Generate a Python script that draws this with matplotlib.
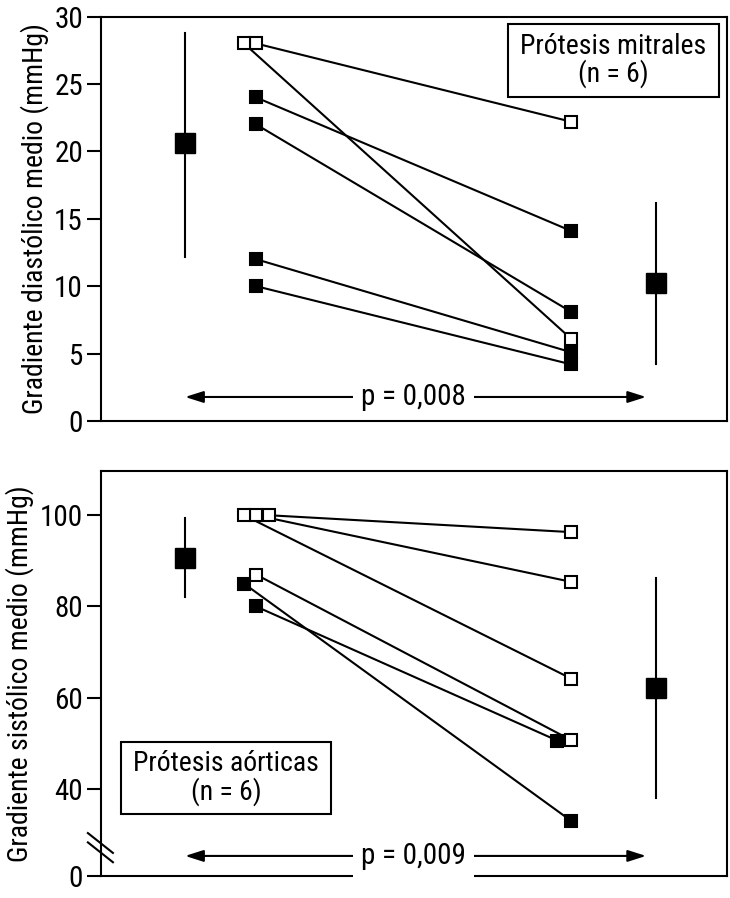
import matplotlib
matplotlib.use("Agg")
import matplotlib.pyplot as plt
from matplotlib.patches import Rectangle

plt.rcParams['font.family'] = ['Roboto Condensed', 'DejaVu Sans']

# --- data: mitral prostheses (diastolic gradient, mmHg) ---
mit_before = [28, 28, 24, 22, 12, 10]
mit_after = [22.2, 6.1, 14.1, 8.1, 5.1, 4.2]
mit_before_open = [True, True, False, False, False, False]
mit_after_open = [True, True, False, False, False, False]
mit_before_dx = [0.0, -0.038, 0.0, 0.0, 0.0, 0.0]
mit_mean = [20.6, 10.2]
mit_low = [12.2, 4.2]
mit_high = [28.8, 16.2]
mit_p = "p = 0,008"

# --- data: aortic prostheses (systolic gradient, mmHg) ---
aor_before = [100, 100, 100, 87, 85, 80]
aor_after = [96.3, 85.4, 64.2, 50.7, 33.0, 50.6]
aor_before_open = [True, True, True, True, False, False]
aor_after_open = [True, True, True, True, False, False]
aor_before_dx = [0.041, 0.0, -0.038, 0.0, -0.038, 0.0]
aor_after_dx = [0.0, 0.0, 0.0, 0.0, 0.0, -0.044]
aor_mean = [90.6, 62.1]
aor_low = [82.0, 37.9]
aor_high = [99.3, 86.2]
aor_p = "p = 0,009"

x_before, x_after = 1.0, 2.0
x_mean = [0.775, 2.27]
XLIM = (0.508, 2.495)

fig = plt.figure(figsize=(7.3, 8.98), dpi=100)
ax1 = fig.add_axes([0.1384, 0.5312, 0.8575, 0.4504])
ax2 = fig.add_axes([0.1384, 0.0245, 0.8575, 0.451])


def draw_pairs(ax, before, after, bopen, aopen, bdx, adx):
    for i in range(len(before)):
        xb = x_before + bdx[i]
        xa = x_after + adx[i]
        ax.plot([xb, xa], [before[i], after[i]], color='black', lw=1.5, zorder=2)
    for i in range(len(before)):
        xb = x_before + bdx[i]
        xa = x_after + adx[i]
        for x, y, op in [(xb, before[i], bopen[i]), (xa, after[i], aopen[i])]:
            ax.plot(x, y, marker='s', ms=8.5, mec='black', mew=1.5,
                    mfc='white' if op else 'black', zorder=3)


def draw_means(ax, mean, low, high):
    for i in range(2):
        ax.plot([x_mean[i], x_mean[i]], [low[i], high[i]], color='black', lw=1.5, zorder=2)
        ax.plot(x_mean[i], mean[i], marker='s', ms=15, color='black', zorder=3)


def draw_arrow(ax, y, label):
    for end in (0.775, 2.238):
        ax.annotate('', xy=(end, y), xytext=(1.5, y),
                    arrowprops=dict(arrowstyle='-|>,head_length=1.1,head_width=0.35',
                                    color='black', lw=1.5, shrinkA=0, shrinkB=0))
    ax.text(1.5, y, label, ha='center', va='center', fontsize=21,
            bbox=dict(facecolor='white', edgecolor='none', pad=6), zorder=4)


def draw_box(ax, x0, y0, w, h, text):
    ax.add_patch(Rectangle((x0, y0), w, h, transform=ax.transAxes, fill=False,
                           edgecolor='black', lw=1.5, zorder=5))
    ax.text(x0 + w / 2, y0 + h / 2, text, transform=ax.transAxes, ha='center',
            va='center', fontsize=20, linespacing=1.0, zorder=5)


def style(ax):
    for s in ax.spines.values():
        s.set_linewidth(1.5)
    ax.set_xlim(*XLIM)
    ax.set_xticks([])
    ax.tick_params(axis='y', direction='out', length=10, width=1.5, labelsize=21, pad=3)


# top panel
draw_pairs(ax1, mit_before, mit_after, mit_before_open, mit_after_open,
           mit_before_dx, [0] * 6)
draw_means(ax1, mit_mean, mit_low, mit_high)
draw_arrow(ax1, 1.78, mit_p)
draw_box(ax1, 0.650, 0.801, 0.337, 0.180, "Prótesis mitrales\n(n = 6)")
style(ax1)
ax1.set_ylim(0, 30)
ax1.set_yticks(range(0, 31, 5))
ax1.set_ylabel('Gradiente diastólico medio (mmHg)', fontsize=20, labelpad=4)

# bottom panel (broken axis: lowest tick stands for 0)
y_bottom = 20.9
draw_pairs(ax2, aor_before, aor_after, aor_before_open, aor_after_open,
           aor_before_dx, aor_after_dx)
draw_means(ax2, aor_mean, aor_low, aor_high)
draw_arrow(ax2, 25.3, aor_p)
draw_box(ax2, 0.032, 0.153, 0.335, 0.178, "Prótesis aórticas\n(n = 6)")
style(ax2)
ax2.set_ylim(y_bottom, 109.7)
ax2.set_yticks([y_bottom, 40, 60, 80, 100])
ax2.set_yticklabels(['0', '40', '60', '80', '100'])
ax2.set_ylabel('Gradiente sistólico medio (mmHg)', fontsize=20, labelpad=4)

# break marks on the y axis
for yo in [0.0, 0.023]:
    ax2.plot([-0.021, 0.019], [0.106 - yo, 0.057 - yo], transform=ax2.transAxes,
             color='black', lw=1.5, clip_on=False, zorder=6)

fig.savefig('out.png', dpi=100)
